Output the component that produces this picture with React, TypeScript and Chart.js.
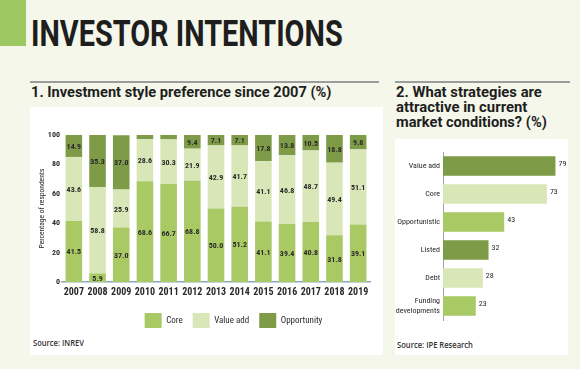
import React, { useEffect, useLayoutEffect, useRef, useState } from 'react';
import { Chart, registerables } from 'chart.js';

Chart.register(...registerables);

// ---------- data ----------
const YEARS = ['2007', '2008', '2009', '2010', '2011', '2012', '2013', '2014', '2015', '2016', '2017', '2018', '2019'];
const CORE = [41.5, 5.9, 37.0, 68.6, 66.7, 68.8, 50.0, 51.2, 41.1, 39.4, 40.8, 31.8, 39.1];
const VALUE_ADD = [43.6, 58.8, 25.9, 28.6, 30.3, 21.9, 42.9, 41.7, 41.1, 46.8, 48.7, 49.4, 51.1];
const OPPORTUNITY = [14.9, 35.3, 37.0, 2.8, 3.0, 9.4, 7.1, 7.1, 17.8, 13.8, 10.5, 18.8, 9.8];
const SERIES_NAMES = ['Core', 'Value add', 'Opportunity'];

const STRATEGIES: (string | string[])[] = ['Value add', 'Core', 'Opportunistic', 'Listed', 'Debt', ['Funding', 'developments']];
const STRATEGY_VALUES = [79, 73, 43, 32, 28, 23];

// ---------- styles ----------
const FAMILY = "Roboto, 'Open Sans', sans-serif";
const TITLE_FONT = "Roboto, 'Liberation Sans', sans-serif";
const C_CORE = '#a9c964';
const C_VALUE = '#d9e7b8';
const C_OPP = '#7e9b47';
const TEXT = '#2a2a2a';

const stackLabels = {
  id: 'stackLabels',
  afterDatasetsDraw(chart: any) {
    const ctx = chart.ctx;
    ctx.save();
    ctx.font = `bold condensed 8px ${FAMILY}`;
    ctx.fillStyle = TEXT;
    ctx.textAlign = 'center';
    ctx.textBaseline = 'middle';
    chart.data.datasets.forEach((ds: any, di: number) => {
      const meta = chart.getDatasetMeta(di);
      meta.data.forEach((bar: any, i: number) => {
        const v = ds.data[i];
        if (v < 5) return;
        const { x, y, base } = bar.getProps(['x', 'y', 'base'], true);
        ctx.fillText(v.toFixed(1), x, (y + base) / 2 + 1);
      });
    });
    ctx.restore();
  },
};

const endLabels = {
  id: 'endLabels',
  afterDatasetsDraw(chart: any) {
    const ctx = chart.ctx;
    ctx.save();
    ctx.font = `condensed 8px ${FAMILY}`;
    ctx.fillStyle = TEXT;
    ctx.textAlign = 'left';
    ctx.textBaseline = 'middle';
    const meta = chart.getDatasetMeta(0);
    meta.data.forEach((bar: any, i: number) => {
      const { x, y } = bar.getProps(['x', 'y'], true);
      ctx.fillText(String(chart.data.datasets[0].data[i]), x + 3, y - 2);
    });
    ctx.restore();
  },
};

function FitText(props: { text: string; left: number; baseline: number; width: number; size: number; weight?: number; color?: string; family?: string; stretch?: string }) {
  const { text, left, baseline, width, size, weight = 700, color = '#1e1e1e', family = TITLE_FONT, stretch = '100%' } = props;
  const ref = useRef<HTMLSpanElement>(null);
  const [sx, setSx] = useState(1);
  useLayoutEffect(() => {
    const measure = () => {
      if (ref.current) {
        const natural = ref.current.offsetWidth;
        if (natural > 0) setSx(width / natural);
      }
    };
    measure();
    (document as any).fonts?.ready?.then(measure);
  }, [text, width]);
  return (
    <span
      ref={ref}
      style={{
        position: 'absolute',
        left,
        top: baseline - 0.842 * size,
        fontFamily: family,
        fontSize: size,
        fontWeight: weight,
        fontStretch: stretch,
        lineHeight: `${size}px`,
        whiteSpace: 'nowrap',
        color,
        transform: `scaleX(${sx})`,
        transformOrigin: '0 0',
      }}
    >
      {text}
    </span>
  );
}

function StackedChart() {
  const ref = useRef<HTMLCanvasElement>(null);
  useEffect(() => {
    const chart = new Chart(ref.current as HTMLCanvasElement, {
      type: 'bar',
      data: {
        labels: YEARS,
        datasets: [
          { label: SERIES_NAMES[0], data: CORE, backgroundColor: C_CORE, borderWidth: 0, yAxisID: 'y' },
          { label: SERIES_NAMES[1], data: VALUE_ADD, backgroundColor: C_VALUE, borderWidth: 0, yAxisID: 'y' },
          { label: SERIES_NAMES[2], data: OPPORTUNITY, backgroundColor: C_OPP, borderWidth: 0, yAxisID: 'y' },
        ],
      },
      options: {
        animation: false,
        responsive: false,
        maintainAspectRatio: false,
        layout: { padding: { top: 28, right: 0, bottom: 0, left: 0 } },
        datasets: { bar: { barPercentage: 0.7, categoryPercentage: 1 } },
        plugins: {
          tooltip: { enabled: false },
          legend: {
            position: 'bottom',
            labels: { boxWidth: 17, boxHeight: 15, padding: 10, color: TEXT, font: { family: FAMILY, size: 9, weight: 'condensed' } },
          },
        },
        scales: {
          x: {
            stacked: true,
            grid: { display: false, drawTicks: false },
            border: { color: '#8ea8bf', width: 1.5 },
            ticks: { color: TEXT, padding: 4, maxRotation: 0, minRotation: 0, autoSkip: false, font: { family: FAMILY, size: 10, weight: 'bold condensed' } },
            afterFit: (s: any) => { s.height = 21; },
          },
          y: {
            stacked: true,
            min: 0,
            max: 100,
            grid: { display: false, drawTicks: false },
            border: { display: false },
            ticks: { stepSize: 20, color: TEXT, padding: 2, font: { family: FAMILY, size: 8, weight: 'bold condensed' } },
            title: { display: true, text: 'Percentage of respondents', color: TEXT, font: { family: FAMILY, size: 7.5, weight: 'condensed' }, padding: { top: 8, bottom: 0 } },
            afterFit: (s: any) => { s.width = 32; },
          },
          pad: {
            type: 'linear',
            position: 'right',
            display: true,
            grid: { display: false, drawTicks: false },
            border: { display: false },
            ticks: { display: false },
            afterFit: (s: any) => { s.width = 67; },
          },
        },
      } as any,
      plugins: [stackLabels],
    });
    return () => chart.destroy();
  }, []);
  return <canvas ref={ref} width={407} height={231} style={{ position: 'absolute', left: 30, top: 107, width: 407, height: 231 }} />;
}

function StrategyChart() {
  const ref = useRef<HTMLCanvasElement>(null);
  useEffect(() => {
    const chart = new Chart(ref.current as HTMLCanvasElement, {
      type: 'bar',
      data: {
        labels: STRATEGIES as any,
        datasets: [
          {
            label: 'Strategies',
            data: STRATEGY_VALUES,
            backgroundColor: [C_OPP, C_VALUE, C_CORE, C_OPP, C_VALUE, C_CORE],
            borderWidth: 0,
            barPercentage: 0.7,
            categoryPercentage: 1,
          },
        ],
      },
      options: {
        indexAxis: 'y',
        animation: false,
        responsive: false,
        maintainAspectRatio: false,
        layout: { padding: { top: 10, right: 4, bottom: 35, left: 0 } },
        plugins: { legend: { display: false }, tooltip: { enabled: false } },
        scales: {
          x: { display: false, min: 0, max: 85 },
          y: {
            grid: { display: false, drawTicks: false },
            border: { color: '#a3a3a3', width: 1 },
            ticks: { color: TEXT, padding: 3, font: { family: FAMILY, size: 8, weight: 'condensed', lineHeight: 1.25 } },
            afterFit: (s: any) => { s.width = 48; },
          },
        },
      } as any,
      plugins: [endLabels],
    });
    return () => chart.destroy();
  }, []);
  return <canvas ref={ref} width={173} height={216} style={{ position: 'absolute', left: 395, top: 139, width: 173, height: 216 }} />;
}

export default function App() {
  return (
    <div style={{ position: 'fixed', left: 0, top: 0, width: 580, height: 369, background: '#f4f7ea', overflow: 'hidden' }}>
      <div style={{ position: 'absolute', left: 0, top: 0, width: 26, height: 46, background: '#9dc862' }} />
      <FitText text="INVESTOR INTENTIONS" left={31} baseline={46} width={312} size={36} />

      <div style={{ position: 'absolute', left: 30, top: 81, width: 349, height: 1.5, background: '#9c9c9c' }} />
      <div style={{ position: 'absolute', left: 395, top: 81, width: 175, height: 1.5, background: '#9c9c9c' }} />
      <FitText text="1. Investment style preference since 2007 (%)" left={31} baseline={97.5} width={300} size={15} />
      <FitText text="2. What strategies are" left={396} baseline={97.5} width={146} size={15} />
      <FitText text="attractive in current" left={396} baseline={112.5} width={131} size={15} />
      <FitText text="market conditions? (%)" left={396} baseline={127.5} width={151} size={15} />

      <div style={{ position: 'absolute', left: 30, top: 107, width: 353, height: 248, background: '#ffffff' }} />
      <div style={{ position: 'absolute', left: 395, top: 139, width: 173, height: 216, background: '#ffffff' }} />

      <FitText text="Source: INREV" left={33} baseline={346} width={51} size={8} weight={600} color="#333" family="'Open Sans', sans-serif" />
      <FitText text="Source: IPE Research" left={397} baseline={348} width={76} size={8} weight={600} color="#333" family="'Open Sans', sans-serif" />

      <StackedChart />
      <StrategyChart />
    </div>
  );
}
